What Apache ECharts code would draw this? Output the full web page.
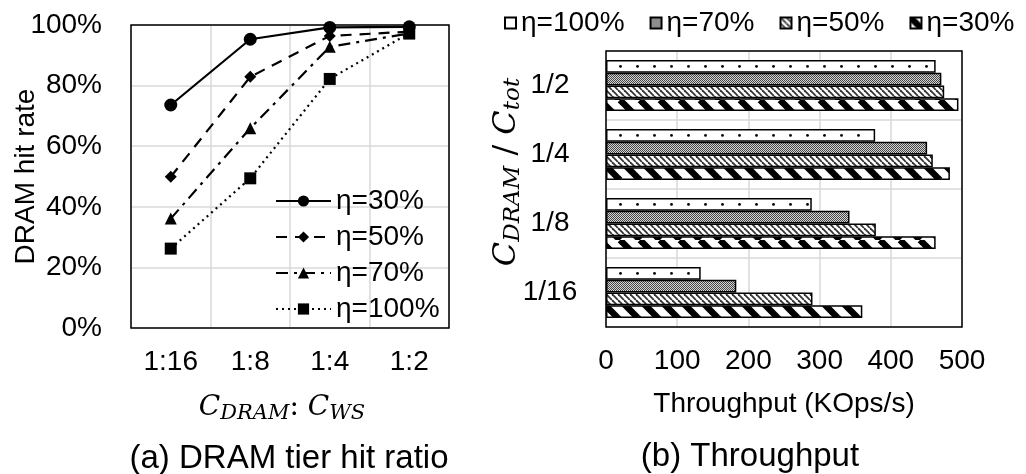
<!DOCTYPE html>
<html>
<head>
<meta charset="utf-8">
<script src="https://cdn.jsdelivr.net/npm/echarts@6/dist/echarts.min.js"></script>
<style>
  html, body { margin: 0; padding: 0; background: #fff; }
  #chart { width: 1026px; height: 474px; }
</style>
</head>
<body>
<div id="chart"></div>
<script>
// (a) 命中率
const ratios = ['1:16', '1:8', '1:4', '1:2']
const hitTicks = [0, 20, 40, 60, 80, 100]
const hit30 = [73.6, 95.3, 99.2, 99.4]
const hit50 = [49.9, 82.9, 96.4, 97.8]
const hit70 = [36.1, 65.9, 92.8, 97.2]
const hit100 = [26.2, 49.4, 82.2, 97.3]

// (b) 吞吐量
const capacities = ['1/2', '1/4', '1/8', '1/16']
const tp100 = [463, 378, 289, 133]
const tp70 = [471, 451, 342, 183]
const tp50 = [475, 459, 379, 290]
const tp30 = [495, 483, 463, 360]

const FONT = 'Liberation Sans'
const MATH = 'DejaVu Serif'

/* 生成填充图案 */
function makePattern(w, h, draw) {
    const c = document.createElement('canvas')
    c.width = w
    c.height = h
    const ctx = c.getContext('2d')
    ctx.fillStyle = '#fff'
    ctx.fillRect(0, 0, w, h)
    draw(ctx, w, h)
    return { image: c, repeat: 'repeat' }
}

function diag(ctx, w, h, width, color) {
    ctx.strokeStyle = color
    ctx.lineWidth = width
    for (let o = -w; o <= w; o += w) {
        ctx.beginPath()
        ctx.moveTo(o, 0)
        ctx.lineTo(o + w, h)
        ctx.stroke()
    }
}

const dotFill = makePattern(17, 69, (ctx) => {
    ctx.fillStyle = '#000'
    ctx.beginPath()
    ctx.arc(8.5, 66.4, 1.4, 0, Math.PI * 2)
    ctx.fill()
})
const checkFill = makePattern(2, 2, (ctx) => {
    ctx.fillStyle = '#444'
    ctx.fillRect(0, 0, 1, 1)
    ctx.fillRect(1, 1, 1, 1)
    ctx.fillStyle = '#d6d6d6'
    ctx.fillRect(1, 0, 1, 1)
    ctx.fillRect(0, 1, 1, 1)
})
const fineFill = makePattern(6, 6, (ctx, w, h) => diag(ctx, w, h, 1.8, '#333'))
const boldFill = makePattern(20, 20, (ctx, w, h) => diag(ctx, w, h, 6.5, '#000'))

const axisText = { fontFamily: FONT, fontSize: 28, color: '#000' }
const gridLine = { show: true, lineStyle: { color: '#d9d9d9', width: 1.5 } }

/* 数学斜体富文本 */
function mathRich(big, small) {
    return {
        c: { fontFamily: MATH, fontStyle: 'italic', fontSize: big, lineHeight: big + 4, fill: '#000', color: '#000' },
        s: { fontFamily: MATH, fontStyle: 'italic', fontSize: small, lineHeight: 12, verticalAlign: 'bottom', fill: '#000', color: '#000' },
        n: { fontFamily: MATH, fontSize: big, lineHeight: big + 4, fill: '#000', color: '#000' },
    }
}

function lineSeries(name, data, type, symbol, size) {
    return {
        name: name,
        type: 'line',
        xAxisIndex: 0,
        yAxisIndex: 0,
        data: data,
        symbol: symbol,
        symbolSize: size,
        itemStyle: { color: '#000' },
        lineStyle: { color: '#000', width: 2.2, type: type },
    }
}

function barSeries(name, data, fill) {
    return {
        name: name + ' ',
        type: 'bar',
        xAxisIndex: 1,
        yAxisIndex: 1,
        data: data,
        barGap: '0%',
        barCategoryGap: '26%',
        itemStyle: { color: fill, borderColor: '#000', borderWidth: 1.5 },
    }
}

const option = {
    animation: false,
    backgroundColor: '#fff',
    title: [
        { text: '(a) DRAM tier hit ratio', left: 284, top: 437, textAlign: 'center',
          textStyle: { fontFamily: FONT, fontSize: 33, fontWeight: 'normal', color: '#000' } },
        { text: '(b) Throughput', left: 745, top: 435, textAlign: 'center',
          textStyle: { fontFamily: FONT, fontSize: 33, fontWeight: 'normal', color: '#000' } },
    ],
    graphic: [
        {
            type: 'text',
            x: 507,
            y: 172,
            rotation: Math.PI / 2,
            style: {
                text: '{c|C}{s|DRAM}{n| / }{c|C}{s|tot}',
                rich: mathRich(32, 23),
                align: 'center',
                verticalAlign: 'middle',
            },
        },
    ],
    legend: [
        {
            data: ['η=30%', 'η=50%', 'η=70%', 'η=100%'],
            orient: 'vertical',
            left: 270,
            top: 182,
            itemWidth: 55,
            itemHeight: 14,
            itemGap: 8,
            textStyle: axisText,
        },
        {
            data: ['η=100% ', 'η=70% ', 'η=50% ', 'η=30% '],
            formatter: (n) => n.trim(),
            left: 499,
            top: 4,
            icon: 'rect',
            itemWidth: 11,
            itemHeight: 11,
            itemGap: 25,
            textStyle: axisText,
        },
    ],
    grid: [
        { left: 131, top: 25, width: 318, height: 303, show: true, z: 10,
          backgroundColor: 'transparent', borderColor: '#000', borderWidth: 1.5 },
        { left: 606, top: 51, width: 356, height: 276, show: true, z: 10,
          backgroundColor: 'transparent', borderColor: '#000', borderWidth: 1.5 },
    ],
    xAxis: [
        {
            gridIndex: 0,
            type: 'category',
            data: ratios,
            axisLine: { show: false },
            axisTick: { show: false },
            axisLabel: Object.assign({ margin: 20, interval: 0 }, axisText),
            splitLine: Object.assign({ interval: 0 }, gridLine),
            name: '{c|C}{s|DRAM}{n|: }{c|C}{s|WS}',
            nameLocation: 'middle',
            nameGap: 64,
            nameTextStyle: {
                padding: [0, 16, 0, 0],
                rich: mathRich(28, 21),
            },
        },
        {
            gridIndex: 1,
            type: 'value',
            min: 0,
            max: 500,
            interval: 100,
            axisLine: { show: false },
            axisTick: { show: false },
            axisLabel: Object.assign({ margin: 20 }, axisText),
            splitLine: gridLine,
            name: 'Throughput (KOps/s)',
            nameLocation: 'middle',
            nameGap: 63,
            nameTextStyle: axisText,
        },
    ],
    yAxis: [
        {
            gridIndex: 0,
            type: 'value',
            min: hitTicks[0],
            max: hitTicks[hitTicks.length - 1],
            interval: hitTicks[1] - hitTicks[0],
            axisLine: { show: false },
            axisTick: { show: false },
            axisLabel: Object.assign({ margin: 29, formatter: '{value}%' }, axisText),
            splitLine: gridLine,
            name: 'DRAM hit rate',
            nameLocation: 'middle',
            nameGap: 91,
            nameMoveOverlap: false,
            nameTextStyle: axisText,
        },
        {
            gridIndex: 1,
            type: 'category',
            data: capacities,
            inverse: true,
            axisLine: { show: false },
            axisTick: { show: false },
            axisLabel: Object.assign({ margin: 56, align: 'center', interval: 0 }, axisText),
            splitLine: Object.assign({ interval: 0 }, gridLine),
        },
    ],
    series: [
        lineSeries('η=30%', hit30, 'solid', 'circle', 13),
        lineSeries('η=50%', hit50, [11, 8], 'diamond', 12),
        lineSeries('η=70%', hit70, [12, 6, 3, 6], 'triangle', 12),
        lineSeries('η=100%', hit100, [2, 4], 'rect', 12),
        barSeries('η=100%', tp100, dotFill),
        barSeries('η=70%', tp70, checkFill),
        barSeries('η=50%', tp50, fineFill),
        barSeries('η=30%', tp30, boldFill),
    ],
}

const myChart = echarts.init(document.getElementById('chart'))
myChart.setOption(option)
</script>
</body>
</html>
